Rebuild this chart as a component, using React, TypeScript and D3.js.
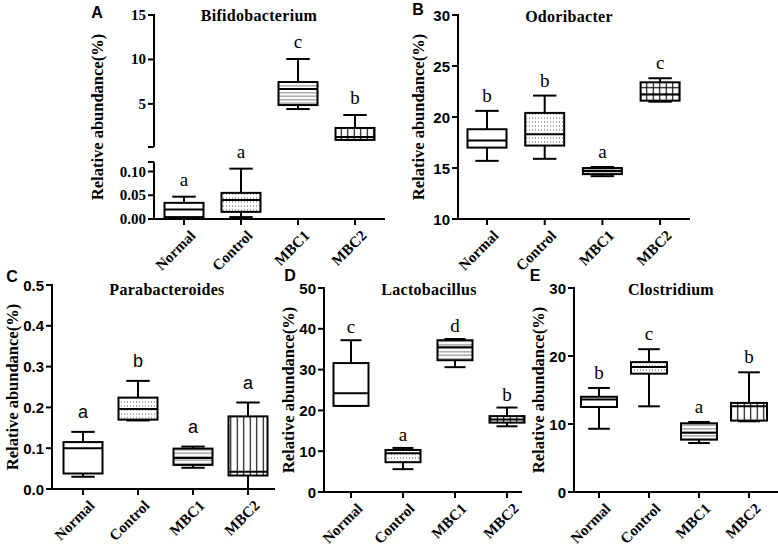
import React from "react";
import * as d3 from "d3";

const categories = ["Normal", "Control", "MBC1", "MBC2"];

// box stats: [whisker min, Q1, median, Q3, whisker max]
const bifidoStats = [
  [0.002, 0.004, 0.02, 0.034, 0.047],
  [0.004, 0.015, 0.04, 0.055, 0.106],
  [4.42, 4.87, 6.67, 7.46, 10.05],
  [0.94, 0.95, 1.27, 2.29, 3.75],
];
const bifidoLetters = ["a", "a", "c", "b"];
const bifidoUpperTicks = [5, 10, 15];
const bifidoLowerTicks = [0, 0.05, 0.1];

const odoriStats = [
  [15.7, 17.0, 17.7, 18.8, 20.6],
  [15.9, 17.2, 18.3, 20.4, 22.1],
  [14.2, 14.4, 14.7, 15.0, 15.1],
  [21.5, 21.6, 22.2, 23.4, 23.8],
];
const odoriLetters = ["b", "b", "a", "c"];
const odoriTicks = [10, 15, 20, 25, 30];

const paraStats = [
  [0.03, 0.038, 0.1, 0.115, 0.14],
  [0.168, 0.17, 0.196, 0.224, 0.265],
  [0.052, 0.059, 0.076, 0.099, 0.104],
  [0.0, 0.033, 0.042, 0.178, 0.212],
];
const paraLetters = ["a", "b", "a", "a"];
const paraTicks = [0, 0.1, 0.2, 0.3, 0.4, 0.5];

const lactoStats = [
  [21.1, 21.1, 24.2, 31.6, 37.2],
  [5.6, 7.3, 9.5, 10.3, 10.8],
  [30.6, 32.3, 35.5, 37.2, 37.5],
  [16.1, 17.0, 17.8, 18.6, 20.7],
];
const lactoLetters = ["c", "a", "d", "b"];
const lactoTicks = [0, 10, 20, 30, 40, 50];

const clostStats = [
  [9.3, 12.5, 13.6, 14.0, 15.3],
  [12.6, 17.4, 18.4, 19.1, 21.0],
  [7.2, 7.7, 8.7, 10.1, 10.3],
  [10.4, 10.5, 12.6, 13.1, 17.6],
];
const clostLetters = ["b", "c", "a", "b"];
const clostTicks = [0, 10, 20, 30];

const SERIF = "'Liberation Serif', 'Times New Roman', serif";
const SANS = "'Liberation Sans', Arial, sans-serif";
const YLABEL = "Relative abundance(%)";

type Layout = {
  axisX: number; xRight: number; yTop: number; yBottom: number;
  xFirst: number; step: number; boxW: number;
  labelX: number; titleX: number; titleY: number;
  letterX: number; letterY: number; letterOff: number;
};

const layouts: Record<string, Layout> = {
  A: { axisX: 154, xRight: 385, yTop: 15, yBottom: 219, xFirst: 184, step: 57, boxW: 39, labelX: 97, titleX: 259, titleY: 21, letterX: 97, letterY: 18, letterOff: 11 },
  B: { axisX: 458, xRight: 690, yTop: 15, yBottom: 219, xFirst: 487, step: 57.7, boxW: 39, labelX: 418, titleX: 569, titleY: 22, letterX: 418, letterY: 15, letterOff: 9 },
  C: { axisX: 52, xRight: 275, yTop: 285, yBottom: 489, xFirst: 83, step: 55, boxW: 39, labelX: 12, titleX: 167, titleY: 295, letterX: 12, letterY: 282, letterOff: 14 },
  D: { axisX: 324, xRight: 522, yTop: 288, yBottom: 492, xFirst: 351, step: 52, boxW: 35, labelX: 288, titleX: 429, titleY: 295, letterX: 290, letterY: 281, letterOff: 7 },
  E: { axisX: 574, xRight: 778, yTop: 288, yBottom: 492, xFirst: 599, step: 50, boxW: 36, labelX: 538, titleX: 671, titleY: 295, letterX: 535, letterY: 281, letterOff: 9 },
};

const fillsDefault = ["white", "url(#dots)", "url(#hlines)", "url(#vlines)"];
const fillsB = ["white", "url(#dots)", "url(#hlines)", "url(#grid)"];

function xScaleFor(L: Layout) {
  return d3
    .scalePoint<string>()
    .domain(categories)
    .range([L.xFirst, L.xFirst + L.step * (categories.length - 1)]);
}

function Boxes({ L, stats, letters, y, fills, letterFont, letterSize }: any) {
  const x = xScaleFor(L);
  const cap = L.boxW * 0.6;
  return (
    <g>
      {categories.map((c, i) => {
        const [mn, q1, md, q3, mx] = stats[i];
        const cx = x(c)!;
        const bx = cx - L.boxW / 2;
        return (
          <g key={c}>
            <line x1={cx} x2={cx} y1={y(mx)} y2={y(q3)} stroke="#000" strokeWidth={2} />
            <line x1={cx} x2={cx} y1={y(q1)} y2={y(mn)} stroke="#000" strokeWidth={2} />
            <line x1={cx - cap / 2} x2={cx + cap / 2} y1={y(mx)} y2={y(mx)} stroke="#000" strokeWidth={2} />
            <line x1={cx - cap / 2} x2={cx + cap / 2} y1={y(mn)} y2={y(mn)} stroke="#000" strokeWidth={2} />
            <rect x={bx} y={y(q3)} width={L.boxW} height={Math.max(y(q1) - y(q3), 0.5)} fill={fills[i]} stroke="#000" strokeWidth={2} />
            <line x1={bx} x2={bx + L.boxW} y1={y(md)} y2={y(md)} stroke="#000" strokeWidth={2} />
            <text x={cx} y={y(mx) - L.letterOff} textAnchor="middle" fontFamily={letterFont} fontSize={letterSize} fill="#000">
              {letters[i]}
            </text>
          </g>
        );
      })}
    </g>
  );
}

function XAxis({ L }: { L: Layout }) {
  const x = xScaleFor(L);
  return (
    <g>
      <line x1={L.axisX - 1} x2={L.xRight} y1={L.yBottom} y2={L.yBottom} stroke="#000" strokeWidth={2} />
      {categories.map((c) => (
        <g key={c}>
          <line x1={x(c)} x2={x(c)} y1={L.yBottom} y2={L.yBottom + 6} stroke="#000" strokeWidth={2} />
          <text
            transform={`translate(${x(c)! + 9},${L.yBottom + 14}) rotate(-45)`}
            textAnchor="end"
            dominantBaseline="central"
            fontFamily={SERIF}
            fontWeight="bold"
            fontSize={15}
          >
            {c}
          </text>
        </g>
      ))}
    </g>
  );
}

function YAxis({ L, y, ticks, fmt, font, size, y0, y1 }: any) {
  return (
    <g>
      <line x1={L.axisX} x2={L.axisX} y1={y0} y2={y1} stroke="#000" strokeWidth={2} />
      {ticks.map((t: number) => (
        <g key={t}>
          <line x1={L.axisX - 6} x2={L.axisX} y1={y(t)} y2={y(t)} stroke="#000" strokeWidth={2} />
          <text x={L.axisX - 8} y={y(t)} textAnchor="end" dominantBaseline="central" fontFamily={font} fontWeight="bold" fontSize={size}>
            {fmt(t)}
          </text>
        </g>
      ))}
    </g>
  );
}

function Labels({ L, title, letter }: { L: Layout; title: string; letter: string }) {
  const cy = (L.yTop + L.yBottom) / 2;
  return (
    <g>
      <text x={L.titleX} y={L.titleY} textAnchor="middle" fontFamily={SERIF} fontWeight="bold" fontSize={16} letterSpacing={0.3}>
        {title}
      </text>
      <text
        transform={`translate(${L.labelX},${cy}) rotate(-90)`}
        textAnchor="middle"
        dominantBaseline="central"
        fontFamily={SERIF}
        fontWeight="bold"
        fontSize={16.5}
      >
        {YLABEL}
      </text>
      <text x={L.letterX} y={L.letterY} textAnchor="middle" fontFamily={SANS} fontWeight="bold" fontSize={16}>
        {letter}
      </text>
    </g>
  );
}

function PanelA() {
  const L = layouts.A;
  const upper = d3.scaleLinear().domain([0.15, 15]).range([147, L.yTop]);
  const lower = d3.scaleLinear().domain([0, 0.12]).range([L.yBottom, 162]);
  const y = (v: number) => (v <= 0.12 ? lower(v) : upper(v));
  return (
    <g>
      <YAxis L={L} y={upper} ticks={bifidoUpperTicks} fmt={d3.format("d")} font={SERIF} size={15} y0={L.yTop - 1} y1={147} />
      <YAxis L={L} y={lower} ticks={bifidoLowerTicks} fmt={d3.format(".2f")} font={SERIF} size={15} y0={162} y1={L.yBottom} />
      <line x1={L.axisX - 6} x2={L.axisX} y1={147} y2={147} stroke="#000" strokeWidth={2} />
      <line x1={L.axisX - 6} x2={L.axisX} y1={162} y2={162} stroke="#000" strokeWidth={2} />
      <XAxis L={L} />
      <Boxes L={L} stats={bifidoStats} letters={bifidoLetters} y={y} fills={fillsDefault} letterFont={SERIF} letterSize={19} />
      <Labels L={L} title="Bifidobacterium" letter="A" />
    </g>
  );
}

function Panel({ L, stats, letters, ticks, fmt, title, letter, fills, letterFont, letterSize }: any) {
  const y = d3
    .scaleLinear()
    .domain([ticks[0], ticks[ticks.length - 1]])
    .range([L.yBottom, L.yTop]);
  return (
    <g>
      <YAxis L={L} y={y} ticks={ticks} fmt={fmt} font={SANS} size={15} y0={L.yTop - 1} y1={L.yBottom} />
      <XAxis L={L} />
      <Boxes L={L} stats={stats} letters={letters} y={y} fills={fills} letterFont={letterFont} letterSize={letterSize} />
      <Labels L={L} title={title} letter={letter} />
    </g>
  );
}

export default function App() {
  return (
    <svg width={778} height={551} style={{ position: "absolute", left: 0, top: 0, background: "#fff" }}>
      <defs>
        <pattern id="dots" patternUnits="userSpaceOnUse" width={3} height={4}>
          <rect x={1} y={1.5} width={1} height={1} fill="#555" />
        </pattern>
        <pattern id="hlines" patternUnits="userSpaceOnUse" width={4} height={3.5}>
          <line x1={0} x2={4} y1={1.75} y2={1.75} stroke="#666" strokeWidth={0.9} />
        </pattern>
        <pattern id="vlines" patternUnits="userSpaceOnUse" width={6.5} height={4}>
          <line x1={3.25} x2={3.25} y1={0} y2={4} stroke="#000" strokeWidth={1.1} />
        </pattern>
        <pattern id="grid" patternUnits="userSpaceOnUse" width={6.5} height={6.5}>
          <line x1={3.25} x2={3.25} y1={0} y2={6.5} stroke="#000" strokeWidth={1.1} />
          <line x1={0} x2={6.5} y1={3.25} y2={3.25} stroke="#000" strokeWidth={1.1} />
        </pattern>
      </defs>
      <rect width={778} height={551} fill="#fff" />
      <PanelA />
      <Panel L={layouts.B} stats={odoriStats} letters={odoriLetters} ticks={odoriTicks} fmt={d3.format("d")} title="Odoribacter" letter="B" fills={fillsB} letterFont={SERIF} letterSize={19} />
      <Panel L={layouts.C} stats={paraStats} letters={paraLetters} ticks={paraTicks} fmt={d3.format(".1f")} title="Parabacteroides" letter="C" fills={fillsDefault} letterFont={SANS} letterSize={18} />
      <Panel L={layouts.D} stats={lactoStats} letters={lactoLetters} ticks={lactoTicks} fmt={d3.format("d")} title="Lactobacillus" letter="D" fills={fillsDefault} letterFont={SERIF} letterSize={19} />
      <Panel L={layouts.E} stats={clostStats} letters={clostLetters} ticks={clostTicks} fmt={d3.format("d")} title="Clostridium" letter="E" fills={fillsDefault} letterFont={SERIF} letterSize={19} />
    </svg>
  );
}
